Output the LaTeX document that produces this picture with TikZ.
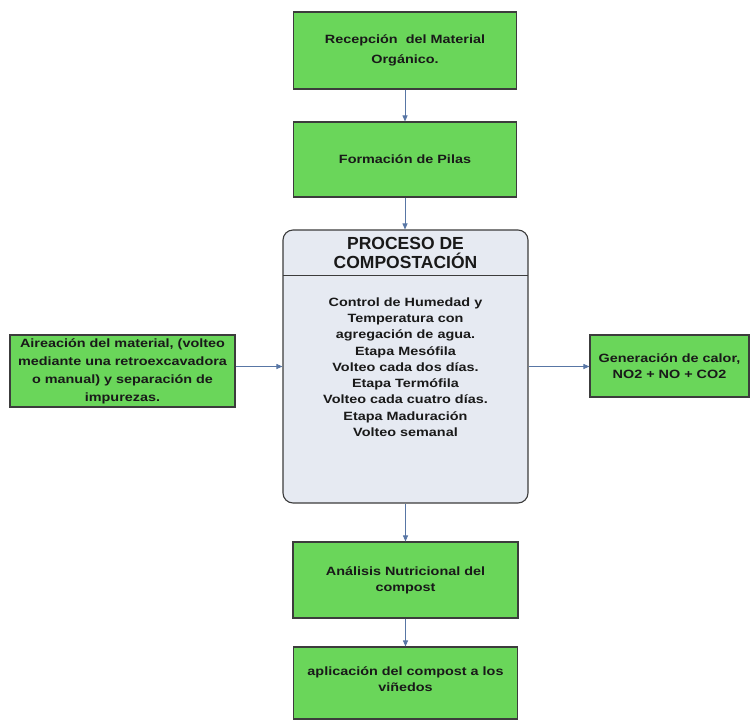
\documentclass[tikz,border=0pt]{standalone}
\usepackage{fontspec}
\setmainfont{Liberation Sans}
\newfontfamily\widesans[FakeStretch=1.2]{Liberation Sans}
\usetikzlibrary{arrows.meta}
\definecolor{boxgreen}{RGB}{106,214,90}
\definecolor{procfill}{RGB}{230,234,242}
\definecolor{edgegray}{RGB}{60,60,60}
\definecolor{arrowblue}{RGB}{88,118,165}
\begin{document}
\begin{tikzpicture}[x=1pt,y=-1pt,
  gbox/.style={draw=edgegray, line width=1.1pt, fill=boxgreen, inner sep=0pt, align=center,
    font=\widesans\fontsize{12}{18}\selectfont\bfseries, text=black!90},
  conn/.style={draw=arrowblue, line width=0.9pt, -{Triangle[length=6pt,width=5pt]}}]
\useasboundingbox (0,0) rectangle (750,721);
\node[gbox, minimum width=223pt, minimum height=77pt, font=\widesans\fontsize{12}{20}\selectfont\bfseries] (recep) at (405,50.5) {Recepción\ \ del Material\\Orgánico.};
\node[gbox, minimum width=223pt, minimum height=75pt] (pilas) at (405,159.5) {Formación de Pilas};
\node[draw=edgegray, line width=1.1pt, fill=procfill, rounded corners=10pt, minimum width=245pt, minimum height=273pt, inner sep=0pt] (proc) at (405.5,366.5) {};
\coordinate (divl) at (283,275);
\coordinate (divr) at (528,275);
\draw[edgegray, line width=1pt] (divl) -- (divr);
\node[align=center, font=\fontsize{17.5}{19}\selectfont\bfseries, text=black!90] (ptitle) at (405.5,252.5) {PROCESO DE\\COMPOSTACIÓN};
\node[align=center, font=\widesans\fontsize{12}{16.25}\selectfont\bfseries, text=black!90] (pbody) at (405.5,367) {Control de Humedad y\\Temperatura con\\agregación de agua.\\Etapa Mesófila\\Volteo cada dos días.\\Etapa Termófila\\Volteo cada cuatro días.\\Etapa Maduración\\Volteo semanal};
\node[gbox, minimum width=225pt, minimum height=76pt, font=\widesans\fontsize{12}{16}\selectfont\bfseries] (anal) at (405.5,580) {Análisis Nutricional del\\compost};
\node[gbox, minimum width=224pt, minimum height=72pt, font=\widesans\fontsize{12}{16}\selectfont\bfseries, text depth=8pt] (aplic) at (405.5,683) {aplicación del compost a los\\viñedos};
\node[gbox, minimum width=225pt, minimum height=72pt] (airea) at (122.5,371) {Aireación del material, (volteo\\mediante una retroexcavadora\\o manual) y separación de\\impurezas.};
\node[gbox, minimum width=159pt, minimum height=62pt, font=\widesans\fontsize{12}{16}\selectfont\bfseries] (gener) at (669.5,366) {Generación de calor,\\NO2 + NO + CO2};
\draw[conn] (recep.south) -- (pilas.north);
\draw[conn] (pilas.south) -- (pilas.south |- proc.north);
\draw[conn] (proc.south) -- (anal.north);
\draw[conn] (anal.south) -- (aplic.north);
\draw[conn] (airea.east |- proc.west) -- (proc.west);
\draw[conn] (proc.east) -- (proc.east -| gener.west);
\end{tikzpicture}
\end{document}
